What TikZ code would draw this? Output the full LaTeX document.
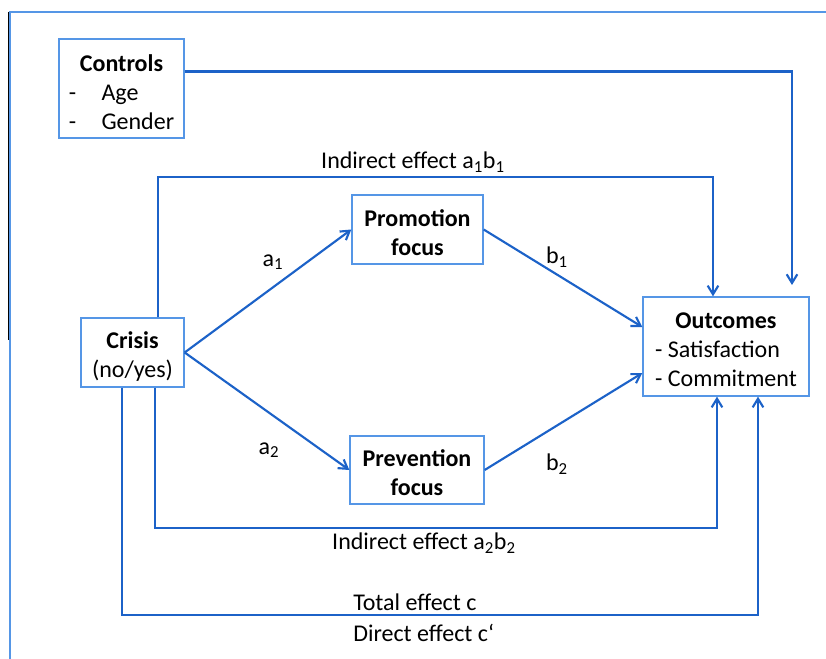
\documentclass[tikz,border=0pt]{standalone}
\usepackage{fontspec}
\setmainfont{Carlito}
\usetikzlibrary{arrows.meta,calc}
\definecolor{linkblue}{RGB}{28,98,200}
\definecolor{boxblue}{RGB}{85,150,230}
\newcommand{\boxlines}[2]{\raisebox{-#1}[\height][\depth]{\begin{tabular}{@{}c@{}}#2\end{tabular}}}
\newcommand{\listlines}[3]{\raisebox{-#1}[\height][\depth]{\begin{tabular}{@{}l@{}}\multicolumn{1}{@{}c@{}}{\bfseries #2}\\#3\end{tabular}}}
\tikzset{
	box/.style={draw=boxblue, line width=1pt, inner sep=0pt},
	link/.style={draw=linkblue, line width=1.6pt},
	arr/.style={link, -{Straight Barb[length=6.5pt,width=8pt]}},
	lbl/.style={inner sep=0pt}
}
\begin{document}
\begin{tikzpicture}[x=0.75pt,y=-0.75pt,font=\fontsize{18}{21.75}\selectfont]
	\useasboundingbox (0,0) rectangle (826,659);
	% frame
	\draw[black, line width=0.8pt] (8.8,12) -- (8.8,340);
	\draw[boxblue, line width=1pt] (10,659) -- (10,12) -- (826,12);

	% boxes
	\node[box, minimum width=93.75pt, minimum height=74.25pt] (controls) at (121.5,88.5)
		{\listlines{4.5pt}{Controls}{-\hspace{19pt}Age\\-\hspace{19pt}Gender}};
	\node[box, minimum width=77.25pt, minimum height=51.75pt] (crisis) at (132.5,352.5)
		{\boxlines{3.75pt}{\bfseries Crisis\\(no/yes)}};
	\node[box, minimum width=98.25pt, minimum height=51.75pt] (promotion) at (417.5,229.5)
		{\boxlines{4.5pt}{\bfseries Promotion\\\bfseries focus}};
	\node[box, minimum width=100.5pt, minimum height=51pt] (prevention) at (417,470)
		{\boxlines{3.75pt}{\bfseries Prevention\\\bfseries focus}};
	\node[box, minimum width=124.5pt, minimum height=74.25pt] (outcomes) at (726,346.5)
		{\listlines{3.75pt}{Outcomes}{- Satisfaction\\- Commitment}};
	\coordinate (ctrlend) at (792,285);

	% paths
	\draw[arr] (crisis.east) -- (promotion.west);
	\draw[arr] (crisis.east) -- (prevention.west);
	\draw[arr] (promotion.east) -- ([yshift=14.6pt]outcomes.west);
	\draw[arr] (prevention.east) -- ([yshift=-19.9pt]outcomes.west);
	\draw[arr] ($(controls.north east)!0.33!(controls.south east)$) -| (ctrlend);
	\draw[arr] ([xshift=19pt]crisis.north) -- +(0,-140) -| ([xshift=-9.75pt]outcomes.north);
	\draw[arr] ([xshift=17pt]crisis.south) -- +(0,140) -| ([xshift=-6.75pt]outcomes.south);
	\draw[arr] ([xshift=-7.9pt]crisis.south) -- +(0,227) -| ([xshift=24pt]outcomes.south);

	% labels
	\node[lbl] (ind1) at (413,162) {Indirect effect a\textsubscript{1}b\textsubscript{1}};
	\node[lbl] (a1) at (273,262) {a\textsubscript{1}};
	\node[lbl] (b1) at (557,257) {b\textsubscript{1}};
	\node[lbl] (a2) at (269,450) {a\textsubscript{2}};
	\node[lbl] (b2) at (557,464) {b\textsubscript{2}};
	\node[lbl] (ind2) at (424,543) {Indirect effect a\textsubscript{2}b\textsubscript{2}};
	\node[lbl, anchor=west] (total) at (353,602) {Total effect c};
	\node[lbl, anchor=west] (direct) at (353,633) {Direct effect c‘};
\end{tikzpicture}
\end{document}
